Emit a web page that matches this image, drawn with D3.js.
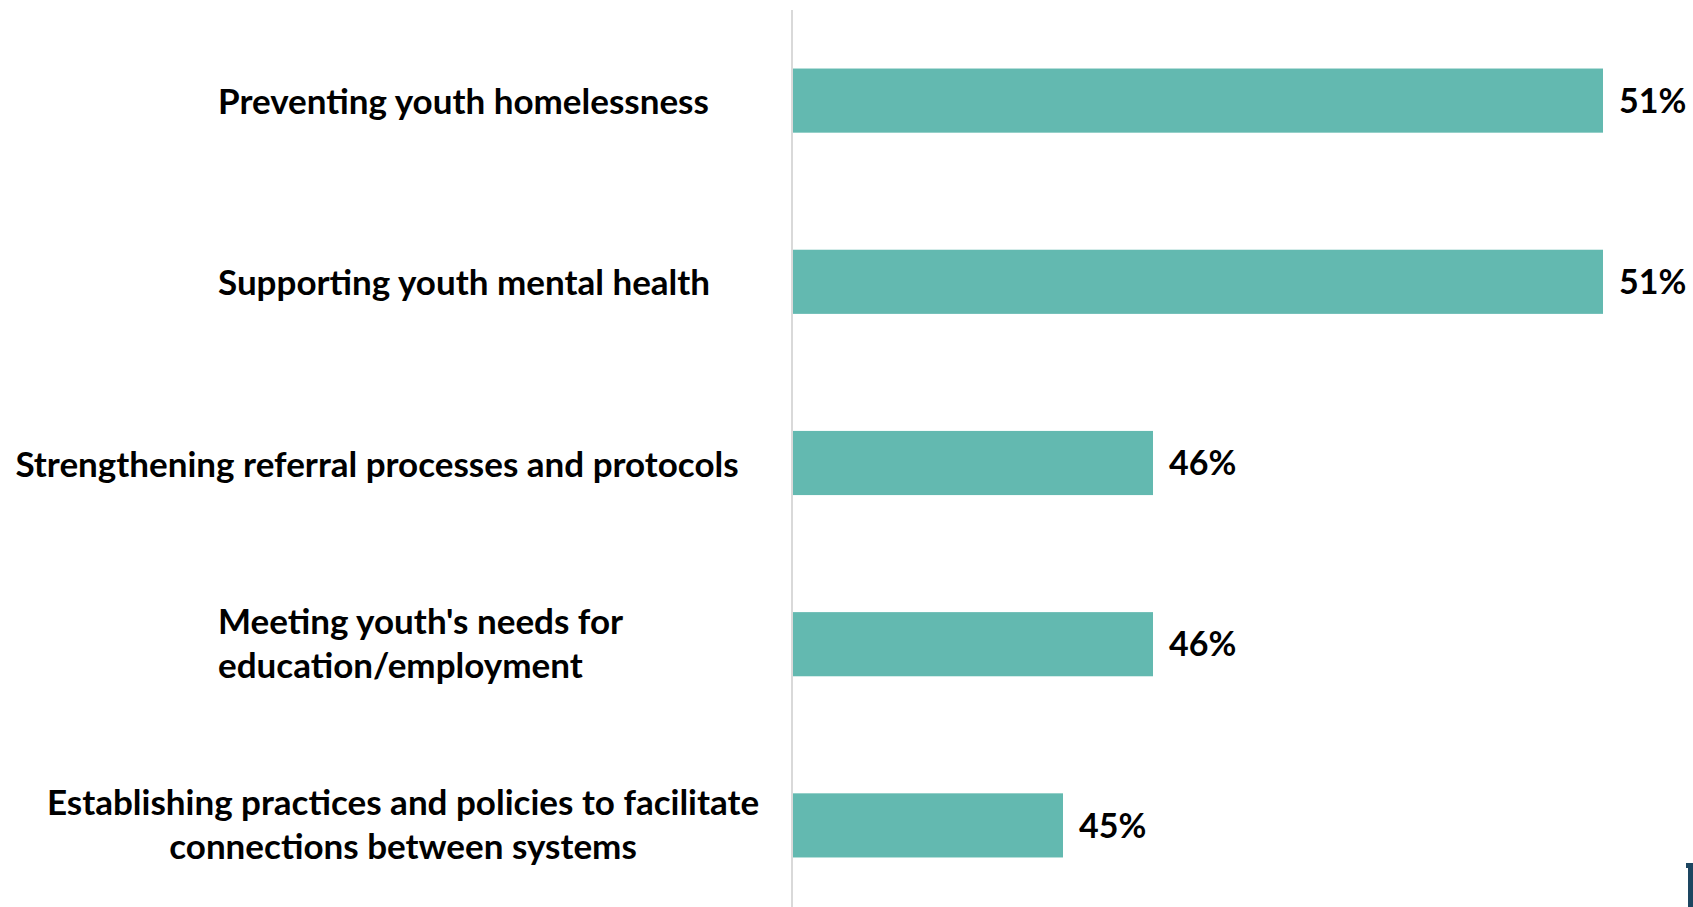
<!DOCTYPE html>
<html>
<head>
<meta charset="utf-8">
<script src="https://cdn.jsdelivr.net/npm/d3@7"></script>
<style>
  html, body { margin: 0; padding: 0; background: #ffffff; }
  svg { display: block; }
  text { font-family: Lato, "Open Sans", sans-serif; font-weight: 700; fill: #000000; }
</style>
</head>
<body>
<svg id="chart" width="1693" height="907"></svg>
<script>
// Survey results: share of respondents selecting each priority area
const categories = [
  ["Preventing youth homelessness"],
  ["Supporting youth mental health"],
  ["Strengthening referral processes and protocols"],
  ["Meeting youth's needs for", "education/employment"],
  ["Establishing practices and policies to facilitate", "connections between systems"]
];
const values = [51, 51, 46, 46, 45];
const valueLabels = ["51%", "51%", "46%", "46%", "45%"];

const W = 1693, H = 907;
const svg = d3.select("#chart");

const keys = categories.map((c, i) => i);

// Horizontal value scale (axis baseline sits at 42%)
const x = d3.scaleLinear().domain([42, 51]).range([793, 1603]);
const y = d3.scaleBand().domain(keys).range([10, 916]).paddingInner(0.646).paddingOuter(0.323);

const barColor = "#63b9b0";
const catFontSize = 35;
const valFontSize = 34;

// Bars
svg.append("g").selectAll("rect")
  .data(values)
  .join("rect")
  .attr("x", x(42))
  .attr("y", (d, i) => y(i))
  .attr("width", d => x(d) - x(42))
  .attr("height", y.bandwidth())
  .attr("fill", barColor);

// Vertical category axis line
svg.append("line")
  .attr("x1", 792).attr("x2", 792)
  .attr("y1", 10).attr("y2", H)
  .attr("stroke", "#d9d9d9")
  .attr("stroke-width", 2);

// Value labels at bar ends
svg.append("g").selectAll("text")
  .data(values)
  .join("text")
  .attr("x", d => x(d) + 16)
  .attr("y", (d, i) => y(i) + y.bandwidth() / 2)
  .attr("dy", "0.36em")
  .style("font-size", valFontSize + "px")
  .text((d, i) => valueLabels[i]);

// Category labels (left column; wrapped labels have one tspan per line)
const labelPlacement = [
  { anchor: "start", x: 218 },
  { anchor: "start", x: 218 },
  { anchor: "middle", x: 377 },
  { anchor: "start", x: 218 },
  { anchor: "middle", x: 403 }
];
const lineGap = 44;

const catG = svg.append("g");
categories.forEach((lines, i) => {
  const p = labelPlacement[i];
  const cy = y(i) + y.bandwidth() / 2 + (lines.length > 1 ? -1 : 1);
  const t = catG.append("text")
    .attr("text-anchor", p.anchor)
    .style("font-size", catFontSize + "px");
  lines.forEach((ln, j) => {
    t.append("tspan")
      .attr("x", p.x)
      .attr("y", cy + (j - (lines.length - 1) / 2) * lineGap)
      .attr("dy", "0.36em")
      .text(ln);
  });
});

// Partially visible logo mark at the lower-right edge
const logo = svg.append("g").attr("fill", "#1d4661");
logo.append("rect").attr("x", 1686).attr("y", 863).attr("width", 7).attr("height", 5);
logo.append("rect").attr("x", 1688).attr("y", 863).attr("width", 5).attr("height", 44);
</script>
</body>
</html>
